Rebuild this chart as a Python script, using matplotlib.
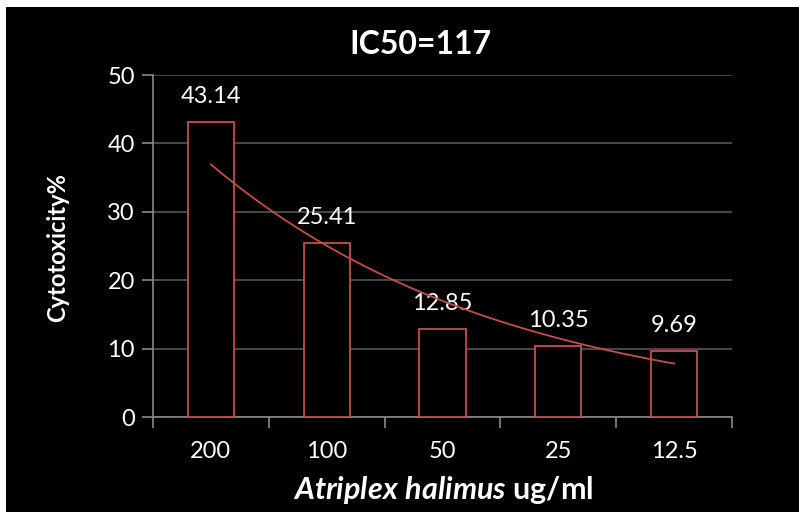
import numpy as np
import matplotlib
matplotlib.use("Agg")
import matplotlib.pyplot as plt
from matplotlib.patches import Rectangle

categories = ["200", "100", "50", "25", "12.5"]
values = [43.14, 25.41, 12.85, 10.35, 9.69]
value_labels = ["43.14", "25.41", "12.85", "10.35", "9.69"]
title = "IC50=117"

plt.rcParams['font.family'] = ['Lato', 'DejaVu Sans']
plt.rcParams['mathtext.fontset'] = 'custom'
plt.rcParams['mathtext.it'] = 'Lato:italic:bold'
plt.rcParams['mathtext.rm'] = 'Lato:bold'

fig = plt.figure(figsize=(7.99, 5.12), dpi=100, facecolor='black')
fig.patches.append(Rectangle((0, 0), 6/799, 1, transform=fig.transFigure,
                             facecolor='white', edgecolor='none', zorder=0))
fig.patches.append(Rectangle((0, (512-7)/512), 1, 1, transform=fig.transFigure,
                             facecolor='white', edgecolor='none', zorder=0))

ax = fig.add_axes([153/799, (512-417)/512, (732-153)/799, (417-75)/512])
ax.set_zorder(2)
ax.set_facecolor('black')
red = '#C0504D'
x = np.arange(len(categories))
ax.bar(x, values, width=0.4, facecolor='black', edgecolor=red, linewidth=1.3, zorder=3)

# exponential trendline (Excel-style fit on category index 1..n)
xi = x + 1
b, lna = np.polyfit(xi, np.log(values), 1)
xs = np.linspace(xi[0], xi[-1], 100)
ax.plot(xs - 1, np.exp(lna + b * xs), color=red, linewidth=1.3, zorder=4)

for xx, v, lab in zip(x, values, value_labels):
    ax.text(xx, v + 2.2, lab, ha='center', va='bottom', color='white', fontsize=17)

ax.set_xlim(-0.5, len(categories) - 0.5)
ax.set_ylim(0, 50)
ax.set_yticks(np.arange(0, 51, 10))
ax.set_xticks(np.arange(-0.5, len(categories), 1.0))
ax.set_xticklabels([])
ax.set_xticks(x, minor=True)
ax.set_xticklabels(categories, minor=True)
ax.tick_params(axis='x', which='major', direction='out', length=8, color='#8a8a8a', width=1.2)
ax.tick_params(axis='x', which='minor', length=0, pad=17, labelcolor='white', labelsize=17)
ax.tick_params(axis='y', direction='out', length=8, color='#8a8a8a', width=1.2,
               labelcolor='white', labelsize=17, pad=5)
ax.grid(axis='y', color='#555555', linewidth=1.2, zorder=1)
ax.set_axisbelow(True)
for s in ['top', 'right']:
    ax.spines[s].set_visible(False)
for s in ['left', 'bottom']:
    ax.spines[s].set_color('#8a8a8a')
    ax.spines[s].set_linewidth(1.2)

fig.text(420/799, 1 - 44/512, title, ha='center', va='center', color='white',
         fontsize=23, fontweight='bold')
fig.text(58/799, 1 - 248/512, "Cytotoxicity%", ha='center', va='center', color='white',
         fontsize=17, fontweight='bold', rotation=90)
fig.text(443/799, 1 - 490/512, r"$\mathit{Atriplex\ halimus}$ ug/ml", ha='center',
         va='center', color='white', fontsize=22, fontweight='bold')

fig.savefig("out.png", dpi=100, facecolor='black')
